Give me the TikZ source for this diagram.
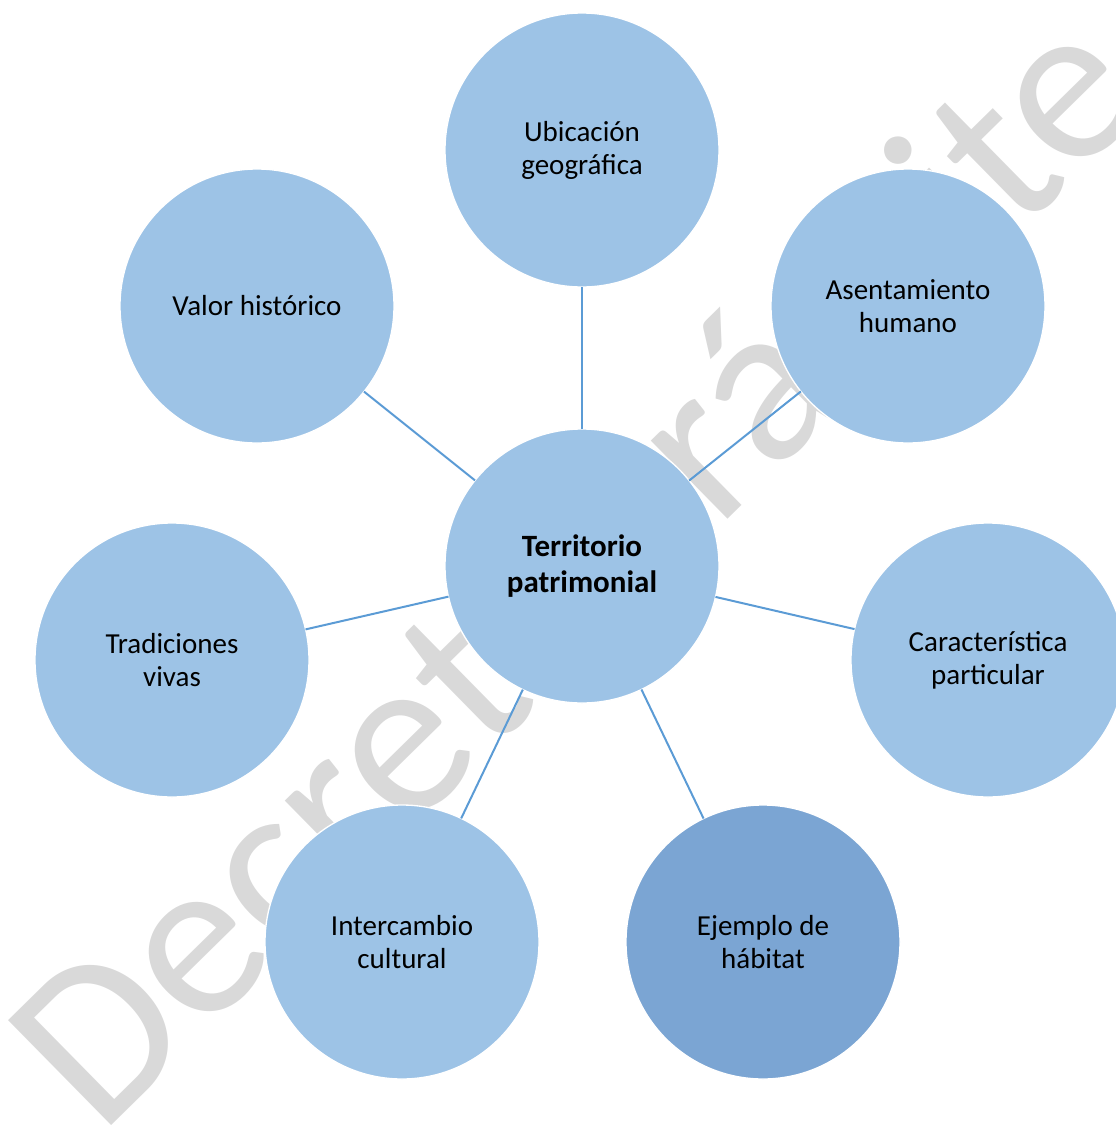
\documentclass[tikz,border=0pt]{standalone}
\usepackage{fontspec}
\setmainfont{Carlito}
\definecolor{bub}{HTML}{9DC3E6}
\definecolor{bubdark}{HTML}{7BA5D3}
\definecolor{conncol}{HTML}{5B9BD5}
\definecolor{wmgray}{HTML}{D9D9D9}
\tikzset{
  bub/.style={circle, fill=bub, draw=white, line width=1pt, minimum size=205.5pt,
    inner sep=0pt, outer sep=0pt, align=center, font=\fontsize{21.75}{24.75}\selectfont},
  bubmain/.style={bub, font=\bfseries\fontsize{23.25}{27}\selectfont},
  conn/.style={draw=conncol, line width=1.5pt},
  wmark/.style={rotate=44.5, anchor=base west, inner sep=0pt, text=wmgray,
    font=\fontsize{172}{172}\selectfont}
}
\begin{document}
\begin{tikzpicture}[x=0.75pt, y=-0.75pt]
\useasboundingbox (0,0) rectangle (1116,1140);
\clip (0,0) rectangle (1116,1140);
\node[wmark] (wm) at (100,1137) {Decreto trámite};
\node[bubmain] (c) at (582,566) {Territorio\\patrimonial};
\node[bub] (u) at (582,150) {Ubicación\\geográfica};
\node[bub] (a) at (908,306) {Asentamiento\\humano};
\node[bub] (p) at (988,660) {Característica\\particular};
\node[bub, fill=bubdark] (e) at (763,942) {Ejemplo de\\hábitat};
\node[bub] (i) at (402,942) {Intercambio\\cultural};
\node[bub] (t) at (172,660) {Tradiciones\\vivas};
\node[bub] (v) at (257,306) {Valor histórico};
\draw[conn] (c) -- (u);
\draw[conn] (c) -- (a);
\draw[conn] (c) -- (p);
\draw[conn] (c) -- (e);
\draw[conn] (c) -- (i);
\draw[conn] (c) -- (t);
\draw[conn] (c) -- (v);
\end{tikzpicture}
\end{document}
